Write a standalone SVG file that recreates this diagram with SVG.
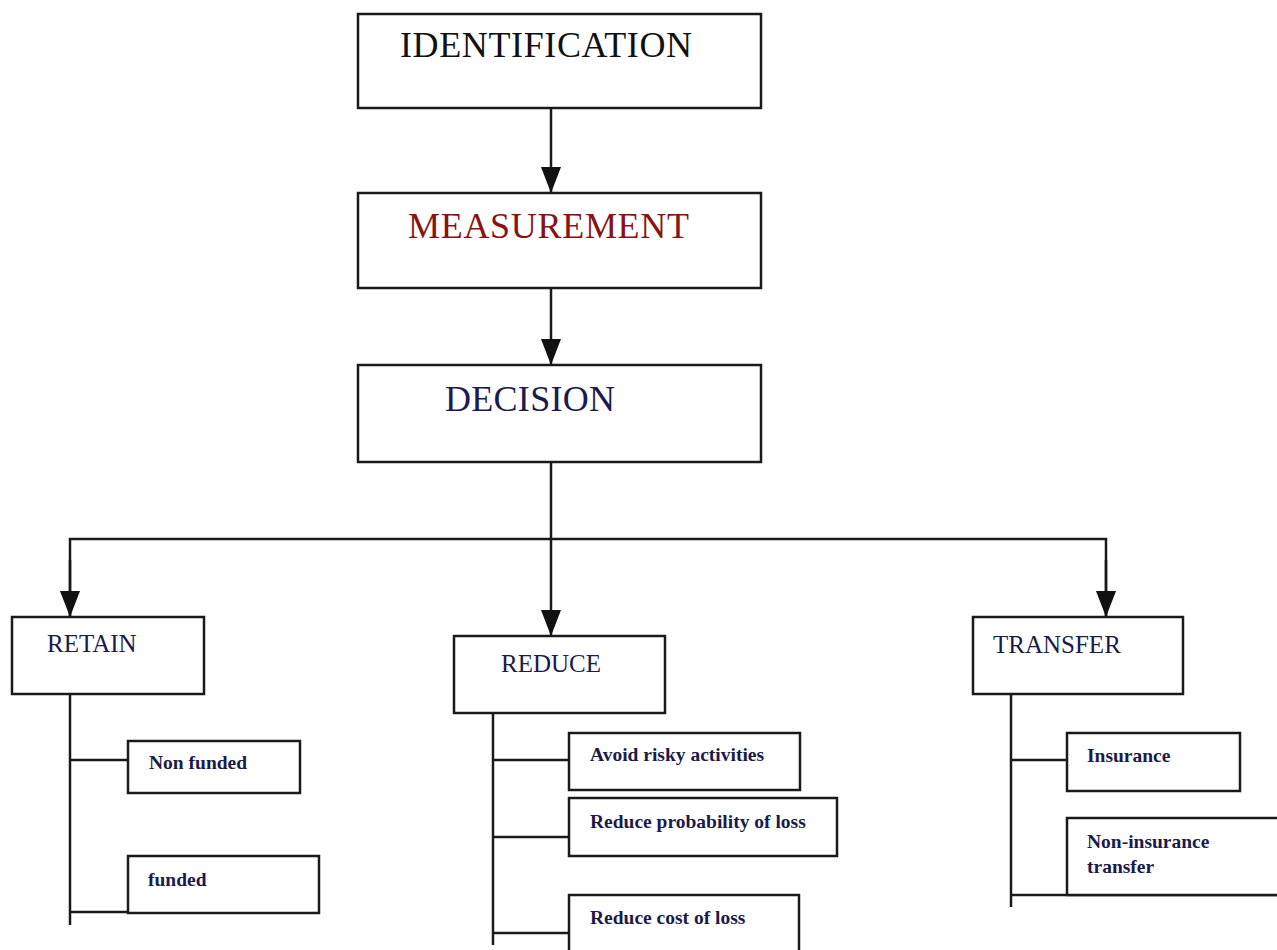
<svg xmlns="http://www.w3.org/2000/svg" width="1277" height="950" viewBox="0 0 1277 950">
<defs>
<marker id="arr" markerWidth="26" markerHeight="20" refX="26" refY="10" orient="auto" markerUnits="userSpaceOnUse" viewBox="0 0 26 20">
<path d="M0,0 L26,10 L0,20 Z" fill="#111"/>
</marker>
</defs>
<style>
rect{fill:#fff;stroke:#1a1a1a;stroke-width:2.5}
.big{font-family:"Liberation Serif","Times New Roman",serif;font-size:36px}
.mid{font-family:"Liberation Serif","Times New Roman",serif;font-size:25px;fill:#1b1b4a}
.small{font-family:"Liberation Serif","Times New Roman",serif;font-size:19.5px;font-weight:bold;fill:#1b1b4a}
.c line,.c polyline{stroke:#1a1a1a;stroke-width:2.5;fill:none}
</style>
<rect x="0" y="0" width="1277" height="950" style="fill:#fff;stroke:none"/>
<g class="c" id="connectors">
<line x1="551" y1="108" x2="551" y2="193" marker-end="url(#arr)"/>
<line x1="551" y1="288" x2="551" y2="365" marker-end="url(#arr)"/>
<line x1="551" y1="462" x2="551" y2="636" marker-end="url(#arr)"/>
<polyline points="70,617 70,539 1106,539 1106,617"/>
<line x1="70" y1="560" x2="70" y2="617" marker-end="url(#arr)"/>
<line x1="1106" y1="560" x2="1106" y2="617" marker-end="url(#arr)"/>
<line x1="70" y1="694" x2="70" y2="925"/>
<line x1="70" y1="760" x2="128" y2="760"/>
<line x1="70" y1="912" x2="128" y2="912"/>
<line x1="493" y1="713" x2="493" y2="945"/>
<line x1="493" y1="760" x2="569" y2="760"/>
<line x1="493" y1="837" x2="569" y2="837"/>
<line x1="493" y1="933" x2="569" y2="933"/>
<line x1="1011" y1="694" x2="1011" y2="907"/>
<line x1="1011" y1="760" x2="1067" y2="760"/>
<line x1="1011" y1="895" x2="1280" y2="895"/>
</g>
<g id="identification">
<rect x="358" y="14" width="403" height="94"/>
<text class="big" x="400" y="57" fill="#111" textLength="292">IDENTIFICATION</text>
</g>
<g id="measurement">
<rect x="358" y="193" width="403" height="95"/>
<text class="big" x="408" y="238" fill="#8b1212" textLength="281">MEASUREMENT</text>
</g>
<g id="decision">
<rect x="358" y="365" width="403" height="97"/>
<text class="big" x="445" y="411" fill="#1b1b4f" textLength="170">DECISION</text>
</g>
<g id="retain">
<rect x="12" y="617" width="192" height="77"/>
<text class="mid" x="47" y="652">RETAIN</text>
</g>
<g id="reduce">
<rect x="454" y="636" width="211" height="77"/>
<text class="mid" x="501" y="672">REDUCE</text>
</g>
<g id="transfer">
<rect x="973" y="617" width="210" height="77"/>
<text class="mid" x="993" y="653">TRANSFER</text>
</g>
<g id="non-funded">
<rect x="128" y="741" width="172" height="52"/>
<text class="small" x="149" y="769">Non funded</text>
</g>
<g id="funded">
<rect x="128" y="856" width="191" height="57"/>
<text class="small" x="148" y="886">funded</text>
</g>
<g id="avoid">
<rect x="569" y="733" width="231" height="57"/>
<text class="small" x="590" y="761">Avoid risky activities</text>
</g>
<g id="reduce-prob">
<rect x="569" y="798" width="268" height="58"/>
<text class="small" x="590" y="828">Reduce probability of loss</text>
</g>
<g id="reduce-cost">
<rect x="569" y="895" width="230" height="60"/>
<text class="small" x="590" y="924">Reduce cost of loss</text>
</g>
<g id="insurance">
<rect x="1067" y="733" width="173" height="58"/>
<text class="small" x="1087" y="762">Insurance</text>
</g>
<g id="non-insurance">
<rect x="1067" y="818" width="220" height="77"/>
<text class="small" x="1087" y="848">Non-insurance</text>
<text class="small" x="1087" y="873">transfer</text>
</g>
</svg>
